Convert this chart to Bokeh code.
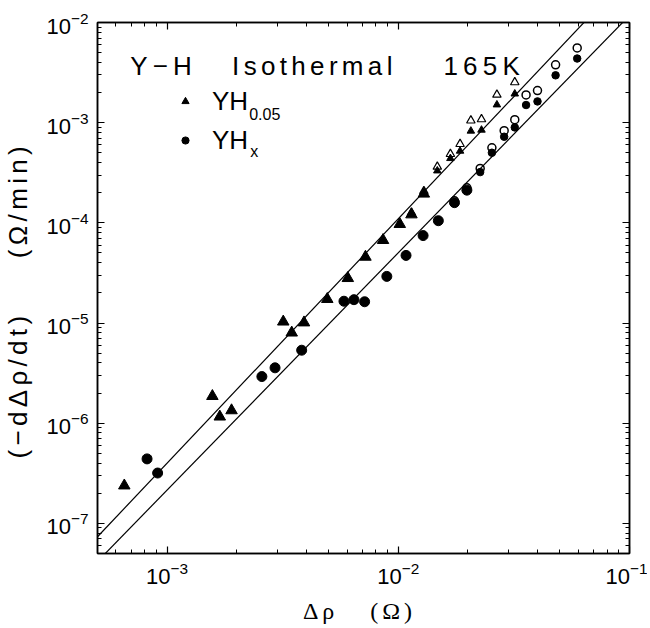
from bokeh.plotting import figure
from bokeh.models import (LogAxis, FixedTicker, LogTickFormatter, Label, Legend,
                          LegendItem, Range1d)
from bokeh.embed import file_html
from bokeh.resources import INLINE

# ---------------- data ----------------
# YH0.05, filled triangles (lower range)
tri_x = [6.53e-4, 1.57e-3, 1.69e-3, 1.90e-3, 3.18e-3, 3.46e-3, 3.91e-3, 4.93e-3,
         6.05e-3, 7.21e-3, 8.59e-3, 1.015e-2, 1.14e-2, 1.29e-2]
tri_y = [2.38e-7, 1.86e-6, 1.16e-6, 1.34e-6, 1.03e-5, 8.0e-6, 1.01e-5, 1.73e-5,
         2.8e-5, 4.57e-5, 6.71e-5, 9.7e-5, 1.21e-4, 1.95e-4]
# YH0.05, filled triangles (upper range, paired with open ones)
tri_hi_x = [1.475e-2, 1.68e-2, 1.85e-2, 2.06e-2, 2.29e-2, 2.67e-2, 3.19e-2]
tri_hi_y = [3.31e-4, 4.4e-4, 5.21e-4, 8.26e-4, 8.45e-4, 1.51e-3, 1.94e-3]
# YH0.05, open triangles
tri_open_x = [1.14e-2, 1.29e-2, 1.475e-2, 1.68e-2, 1.85e-2, 2.06e-2, 2.29e-2, 2.67e-2, 3.19e-2]
tri_open_y = [1.26e-4, 2.07e-4, 3.63e-4, 4.86e-4, 6.12e-4, 1.05e-3, 1.08e-3, 1.9e-3, 2.53e-3]

# YHx, filled circles (lower range)
circ_x = [8.19e-4, 9.1e-4, 2.57e-3, 2.93e-3, 3.82e-3, 5.82e-3, 6.43e-3, 7.15e-3,
          8.92e-3, 1.08e-2, 1.28e-2, 1.49e-2, 1.75e-2, 1.98e-2]
circ_y = [4.4e-7, 3.18e-7, 2.92e-6, 3.57e-6, 5.35e-6, 1.65e-5, 1.71e-5, 1.63e-5,
          2.92e-5, 4.73e-5, 7.46e-5, 1.05e-4, 1.59e-4, 2.12e-4]
# YHx, filled circles (upper range, paired with open ones)
circ_hi_x = [2.26e-2, 2.54e-2, 2.87e-2, 3.19e-2, 3.57e-2, 4.0e-2, 4.79e-2, 5.94e-2]
circ_hi_y = [3.21e-4, 5.01e-4, 7.24e-4, 8.97e-4, 1.5e-3, 1.63e-3, 2.97e-3, 4.37e-3]
# YHx, open circles
circ_open_x = [1.75e-2, 1.98e-2, 2.26e-2, 2.54e-2, 2.87e-2, 3.19e-2, 3.57e-2, 4.0e-2, 4.79e-2, 5.94e-2]
circ_open_y = [1.66e-4, 2.24e-4, 3.49e-4, 5.62e-4, 8.32e-4, 1.07e-3, 1.89e-3, 2.09e-3, 3.78e-3, 5.58e-3]

# power-law fit lines  y = A * x**n
fit_upper = {"A": 8.33, "n": 2.44}
fit_lower = {"A": 2.75, "n": 2.369}
fit_x = [5e-4, 1e-1]

x_major = [1e-3, 1e-2, 1e-1]
y_major = [1e-7, 1e-6, 1e-5, 1e-4, 1e-3, 1e-2]
x_minor = [m * 10.0 ** e for e in (-4, -3, -2) for m in range(2, 10)]
y_minor = [m * 10.0 ** e for e in (-8, -7, -6, -5, -4, -3) for m in range(2, 10)]

title_words = ["Y\u2212H", "Isothermal", "165K"]
legend_main = ["YH", "YH"]
legend_sub = ["0.05", "x"]

# ----------------------------------------------------------------
SANS = "Liberation Sans"
SERIF = "Liberation Serif"
TS = "\u2006"   # small tracking space
TW = "\u2009"   # thin space (wider tracking)
NB = "\u00a0"

X0, X1 = 5e-4, 1e-1
Y0, Y1 = 5e-8, 1e-2

p = figure(x_axis_type="log", y_axis_type="log",
           x_range=Range1d(X0, X1), y_range=Range1d(Y0, Y1),
           frame_width=532, frame_height=531,
           min_border_left=89, min_border_right=18, min_border_top=22, min_border_bottom=75,
           output_backend="svg", toolbar_location=None)
p.grid.visible = False
p.outline_line_color = "black"
p.outline_line_width = 1.5
p.background_fill_color = "white"
p.border_fill_color = "white"

xt = FixedTicker(ticks=x_major, minor_ticks=x_minor)
yt = FixedTicker(ticks=y_major, minor_ticks=y_minor)


def style_axis(ax, ticker, show_labels):
    ax.ticker = ticker
    ax.axis_line_color = "black"
    ax.axis_line_width = 1.5
    ax.major_tick_in = 7
    ax.major_tick_out = 0
    ax.minor_tick_in = 4
    ax.minor_tick_out = 0
    ax.major_tick_line_color = "black"
    ax.minor_tick_line_color = "black"
    ax.major_tick_line_width = 1.2
    ax.minor_tick_line_width = 1
    if show_labels:
        ax.formatter = LogTickFormatter()
        ax.major_label_text_font = SANS
        ax.major_label_text_font_size = "22px"
        ax.major_label_text_color = "black"
    else:
        ax.major_label_overrides = {t: " " for t in ticker.ticks}
        ax.major_label_text_font_size = "2px"
        ax.major_label_text_alpha = 0
        ax.major_label_standoff = 0


xa = p.xaxis[0]
ya = p.yaxis[0]
style_axis(xa, xt, True)
style_axis(ya, yt, True)
xa.major_label_standoff = 8
ya.major_label_standoff = 9

xa.axis_label = "\u0394" + TS + "\u03c1" + NB * 6 + "(" + TS + "\u03a9" + TS + ")" + NB * 2
xa.axis_label_text_font = SERIF
xa.axis_label_text_font_size = "24px"
xa.axis_label_text_font_style = "normal"
xa.axis_label_text_color = "black"
xa.axis_label_standoff = 11

ya.axis_label = TS.join("(\u2212d\u0394\u03c1/dt)") + NB * 8 + TS.join("(\u03a9/min)") + NB * 4
ya.axis_label_text_font = SANS
ya.axis_label_text_font_size = "26px"
ya.axis_label_text_font_style = "normal"
ya.axis_label_text_color = "black"
ya.axis_label_standoff = 10

top = LogAxis()
right = LogAxis()
style_axis(top, xt, False)
style_axis(right, yt, False)
p.add_layout(top, "above")
p.add_layout(right, "right")

# fit lines
for f in (fit_upper, fit_lower):
    p.line(fit_x, [f["A"] * x ** f["n"] for x in fit_x], line_color="black", line_width=1.2)

# data markers
r_tri = p.scatter(tri_x, tri_y, marker="triangle", size=11.5, color="black")
p.scatter(tri_hi_x, tri_hi_y, marker="triangle", size=7.5, color="black")
p.scatter(tri_open_x, tri_open_y, marker="triangle", size=8.5, fill_color=None,
          line_color="black", line_width=1.2)
r_circ = p.scatter(circ_x, circ_y, marker="circle", size=10, color="black")
p.scatter(circ_hi_x, circ_hi_y, marker="circle", size=7.5, color="black")
p.scatter(circ_open_x, circ_open_y, marker="circle", size=8, fill_color=None,
          line_color="black", line_width=1.5)

# legend
legend = Legend(items=[LegendItem(label=legend_main[0], renderers=[r_tri]),
                       LegendItem(label=legend_main[1], renderers=[r_circ])],
                location=(79, 397.5), padding=0, margin=0, spacing=8,
                glyph_width=18, glyph_height=18, label_height=29, label_standoff=18,
                border_line_color=None, background_fill_alpha=0,
                label_text_font=SANS, label_text_font_size="26px",
                label_text_color="black")
p.add_layout(legend)

p.add_layout(Label(x=2.265e-3, y=1.216e-3, text=legend_sub[0], text_font=SANS,
                   text_font_size="16px", text_baseline="middle", text_color="black"))
p.add_layout(Label(x=2.29e-3, y=5.1e-4, text=legend_sub[1], text_font=SANS,
                   text_font_size="16px", text_baseline="middle", text_color="black"))

# title words
for word, xpos, sp in zip(title_words, [6.92e-4, 1.91e-3, 1.567e-2], [TW, TS, TW]):
    p.add_layout(Label(x=xpos, y=3.72e-3, text=sp.join(word), text_font=SANS,
                       text_font_size="26px", text_baseline="middle",
                       text_color="black"))

open("out.html", "w").write(file_html(p, INLINE))
